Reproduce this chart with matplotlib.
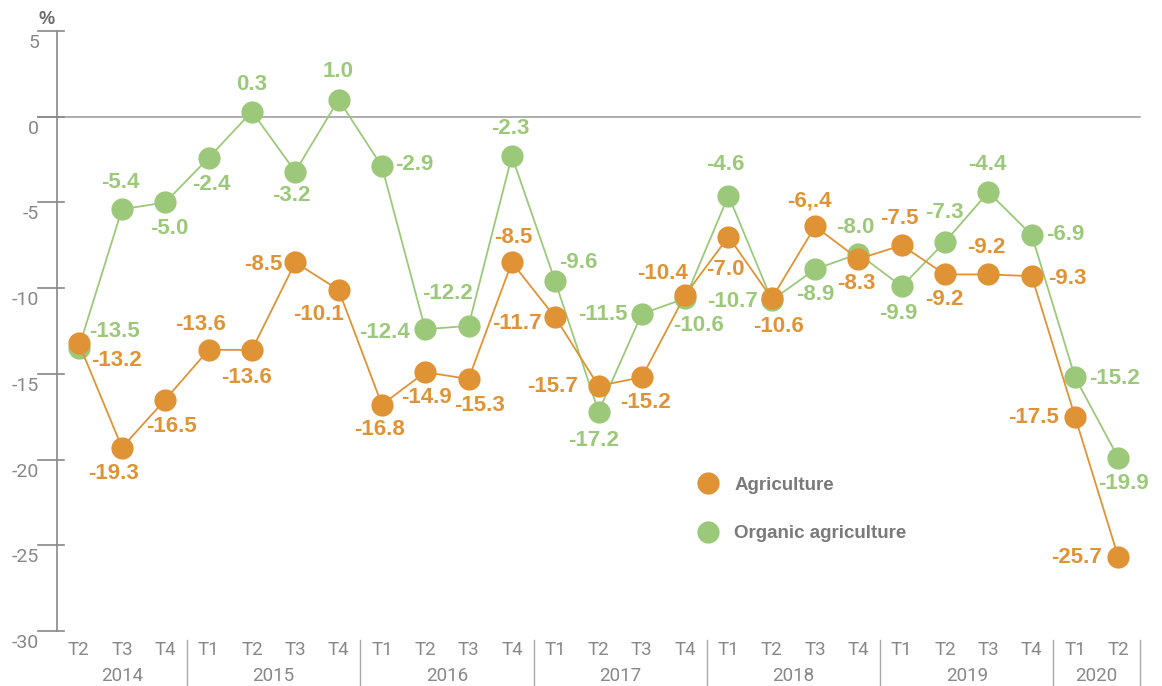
import matplotlib
matplotlib.use("Agg")
import matplotlib.pyplot as plt
from matplotlib.lines import Line2D

quarters = ["T2", "T3", "T4",
            "T1", "T2", "T3", "T4",
            "T1", "T2", "T3", "T4",
            "T1", "T2", "T3", "T4",
            "T1", "T2", "T3", "T4",
            "T1", "T2", "T3", "T4",
            "T1", "T2"]
years = ["2014", "2015", "2016", "2017", "2018", "2019", "2020"]
quarters_per_year = [3, 4, 4, 4, 4, 4, 2]

agriculture = [-13.2, -19.3, -16.5, -13.6, -13.6, -8.5, -10.1, -16.8, -14.9, -15.3,
               -8.5, -11.7, -15.7, -15.2, -10.4, -7.0, -10.6, -6.4, -8.3, -7.5,
               -9.2, -9.2, -9.3, -17.5, -25.7]
organic = [-13.5, -5.4, -5.0, -2.4, 0.3, -3.2, 1.0, -2.9, -12.4, -12.2,
           -2.3, -9.6, -17.2, -11.5, -10.6, -4.6, -10.7, -8.9, -8.0, -9.9,
           -7.3, -4.4, -6.9, -15.2, -19.9]
# label as printed in the source chart
agri_text_fix = {17: "-6,.4"}

yticks = [5, 0, -5, -10, -15, -20, -25, -30]

# label placement (dx, dy in pixels, horizontal alignment)
org_pos = [(10, 17, "left"), (-2, 27, "center"), (4, -26, "center"), (3, -27, "center"),
           (0, 27, "center"), (-4, -24, "center"), (0, 28, "center"), (13, 2, "left"),
           (-15, -3, "right"), (-21, 32, "center"), (-2, 28, "center"), (23, 19, "center"),
           (-5, -29, "center"), (-14, -1, "right"), (13, -27, "center"), (-3, 31, "center"),
           (-14, -1, "right"), (0, -25, "center"), (-3, 26, "center"), (-3, -27, "center"),
           (-1, 29, "center"), (-1, 28, "center"), (14, 1, "left"), (14, -1, "left"),
           (5, -26, "center")]
agri_pos = [(12, -17, "left"), (-8, -26, "center"), (6, -27, "center"), (-8, 25, "center"),
            (-5, -28, "center"), (-13, -2, "right"), (-20, -25, "center"), (-2, -25, "center"),
            (1, -25, "center"), (11, -26, "center"), (1, 25, "center"), (-13, -6, "right"),
            (-20, -1, "right"), (4, -25, "center"), (-23, 22, "center"), (-3, -33, "center"),
            (7, -28, "center"), (-6, 25, "center"), (-2, -24, "center"), (-2, 27, "center"),
            (-1, -25, "center"), (-2, 27, "center"), (16, -2, "left"), (-16, -1, "right"),
            (-16, 0, "right")]

ORANGE = "#e09334"
GREEN = "#9cc979"
GRAY = "#888888"
BOLD = ["Liberation Sans", "DejaVu Sans"]
LIGHT = ["Roboto", "DejaVu Sans"]

fig = plt.figure(figsize=(11.62, 6.86), dpi=100)
ax = fig.add_axes([57 / 1162, 55 / 686, 1083 / 1162, 600 / 686])

x = list(range(len(quarters)))
ax.set_xlim(-0.5, len(quarters) - 0.5)
ax.set_ylim(-30, 5)

for s in ["top", "right", "bottom"]:
    ax.spines[s].set_visible(False)
ax.spines["left"].set_color(GRAY)
ax.spines["left"].set_linewidth(1.2)

# zero line and y ticks
ax.plot([-19 / 1083, 1], [0, 0], color="#a0a0a0", lw=1.2,
        transform=ax.get_yaxis_transform(), clip_on=False, zorder=1)
for v in yticks:
    ax.plot([-19 / 1083, 7 / 1083], [v, v], color=GRAY, lw=1.2,
            transform=ax.get_yaxis_transform(), clip_on=False)
    ax.annotate(str(v), xy=(0, v), xycoords=("axes fraction", "data"),
                xytext=(-18, -12), textcoords="offset pixels",
                ha="right", va="center", fontsize=14, color=GRAY, family=LIGHT)
ax.set_yticks([])
ax.text(-10 / 1083, 1.0 + 3 / 600, "%", transform=ax.transAxes, ha="center",
        va="bottom", fontsize=13, fontweight="bold", color="#6a6a6a", family=BOLD)

# x axis: quarters and years
ax.set_xticks(x)
ax.set_xticklabels(quarters)
ax.tick_params(axis="x", length=0, pad=7, labelsize=13.5, labelcolor=GRAY)
for lab in ax.get_xticklabels():
    lab.set_family(LIGHT)

start = 0
for yr, n in zip(years, quarters_per_year):
    mid = start + (n - 1) / 2
    ax.annotate(yr, xy=(mid, 0), xycoords=("data", "axes fraction"),
                xytext=(0, -45), textcoords="offset pixels", ha="center", va="center",
                fontsize=13.5, color=GRAY, family=LIGHT)
    start += n
    sep = start - 0.5
    ax.plot([sep, sep], [-9 / 600, -55 / 600], color="#a8a8a8", lw=1,
            transform=ax.get_xaxis_transform(), clip_on=False)

# series
ax.plot(x, organic, color=GREEN, lw=1.3, marker="o", markersize=16,
        markeredgewidth=0, zorder=3)
ax.plot(x, agriculture, color=ORANGE, lw=1.3, marker="o", markersize=16,
        markeredgewidth=0, zorder=4)

for i, v in enumerate(organic):
    dx, dy, ha = org_pos[i]
    ax.annotate(f"{v:.1f}", xy=(i, v), xytext=(dx, dy), textcoords="offset pixels",
                ha=ha, va="center", fontsize=16, fontweight="bold", color=GREEN,
                family=BOLD, zorder=5)
for i, v in enumerate(agriculture):
    dx, dy, ha = agri_pos[i]
    ax.annotate(agri_text_fix.get(i, f"{v:.1f}"), xy=(i, v), xytext=(dx, dy),
                textcoords="offset pixels", ha=ha, va="center", fontsize=16,
                fontweight="bold", color=ORANGE, family=BOLD, zorder=5)

handles = [Line2D([], [], ls="none", marker="o", markersize=16, markeredgewidth=0, color=ORANGE),
           Line2D([], [], ls="none", marker="o", markersize=16, markeredgewidth=0, color=GREEN)]
leg = ax.legend(handles, ["Agriculture", "Organic agriculture"], loc="upper left",
                bbox_to_anchor=(684.5 / 1162, 1 - 467 / 686), bbox_transform=fig.transFigure,
                frameon=False, borderpad=0, handlelength=1.5, handletextpad=0.65,
                labelspacing=1.7, prop={"family": BOLD, "weight": "bold", "size": 13.5})
for t in leg.get_texts():
    t.set_color("#7a7a7a")

fig.savefig("out.png", dpi=100)
